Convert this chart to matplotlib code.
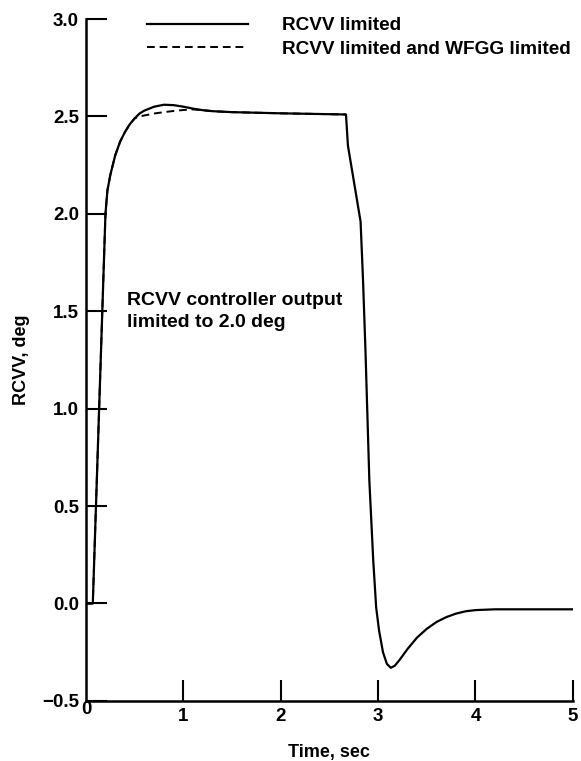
import matplotlib
matplotlib.use('Agg')
from matplotlib import pyplot as plt

# RCVV limited (solid)
time_solid = [0.0, 0.07, 0.2, 0.22, 0.25, 0.3, 0.35, 0.4, 0.45, 0.5, 0.55, 0.6,
              0.7, 0.8, 0.9, 1.0, 1.1, 1.2, 1.3, 1.5, 2.0, 2.67, 2.69, 2.82,
              2.845, 2.87, 2.91, 2.95, 2.98, 3.01, 3.05, 3.09, 3.13, 3.17, 3.22,
              3.3, 3.4, 3.5, 3.6, 3.7, 3.8, 3.9, 4.0, 4.2, 5.0]
rcvv_solid = [0.0, 0.0, 2.0, 2.12, 2.2, 2.3, 2.37, 2.42, 2.46, 2.49, 2.515, 2.53,
              2.55, 2.56, 2.558, 2.55, 2.54, 2.532, 2.527, 2.522, 2.516, 2.51, 2.35, 1.96,
              1.66, 1.3, 0.63, 0.22, -0.02, -0.14, -0.25, -0.31, -0.33, -0.32, -0.29,
              -0.235, -0.175, -0.13, -0.095, -0.07, -0.052, -0.04, -0.034, -0.03, -0.03]

# RCVV limited and WFGG limited (dashed)
time_dashed = [0.0, 0.07, 0.2, 0.22, 0.25, 0.3, 0.35, 0.4, 0.45, 0.5, 0.55, 0.6,
               0.7, 0.8, 0.9, 1.0, 1.1, 1.2, 1.3, 1.5, 2.0, 2.67]
rcvv_dashed = [0.0, 0.0, 2.0, 2.12, 2.2, 2.3, 2.37, 2.42, 2.46, 2.49, 2.5, 2.505,
               2.515, 2.522, 2.528, 2.533, 2.536, 2.532, 2.527, 2.522, 2.516, 2.51]

x_ticks = [1, 2, 3, 4, 5]
x_ticklabels = ['1', '2', '3', '4', '5']
y_ticks = [-0.5, 0.0, 0.5, 1.0, 1.5, 2.0, 2.5, 3.0]
y_ticklabels = ['\u22120.5', '0.0', '0.5', '1.0', '1.5', '2.0', '2.5', '3.0']

plt.rcParams['font.family'] = ['Liberation Sans', 'DejaVu Sans']
plt.rcParams['font.weight'] = 'bold'

fig = plt.figure(figsize=(5.81, 7.61), dpi=100)
ax = fig.add_axes([0.148, 0.079, 0.838, 0.896])

ax.plot(time_solid, rcvv_solid, color='black', lw=1.6, label='RCVV limited')
ax.plot(time_dashed, rcvv_dashed, color='black', lw=1.4, ls=(0, (4, 2.5)),
        label='RCVV limited and WFGG limited')

ax.set_xlim(0, 5)
ax.set_ylim(-0.5, 3.0)
ax.spines['top'].set_visible(False)
ax.spines['right'].set_visible(False)
for s in ['left', 'bottom']:
    ax.spines[s].set_linewidth(1.8)

ax.set_xticks(x_ticks, x_ticklabels)
ax.set_yticks(y_ticks, y_ticklabels)
ax.tick_params(direction='in', length=15, width=1.5, labelsize=13.5)
ax.tick_params(axis='x', pad=5)
ax.tick_params(axis='y', pad=5)
ax.text(0, -0.5, '0', ha='center', va='top', fontsize=13.5, fontweight='bold')

ax.set_xlabel('Time, sec', fontsize=13, fontweight='bold', labelpad=14)
ax.set_ylabel('RCVV, deg', fontsize=13, fontweight='bold', labelpad=9)

ax.text(0.42, 1.50, 'RCVV controller output\nlimited to 2.0 deg',
        fontsize=14, fontweight='bold', va='center', ha='left', linespacing=1.4)

ax.legend(loc='upper left', bbox_to_anchor=(0.125, 1.003), frameon=False,
          fontsize=13.7, handlelength=5.3, handletextpad=1.8, labelspacing=0.33,
          borderpad=0, borderaxespad=0)

fig.savefig('out.png', dpi=100)
